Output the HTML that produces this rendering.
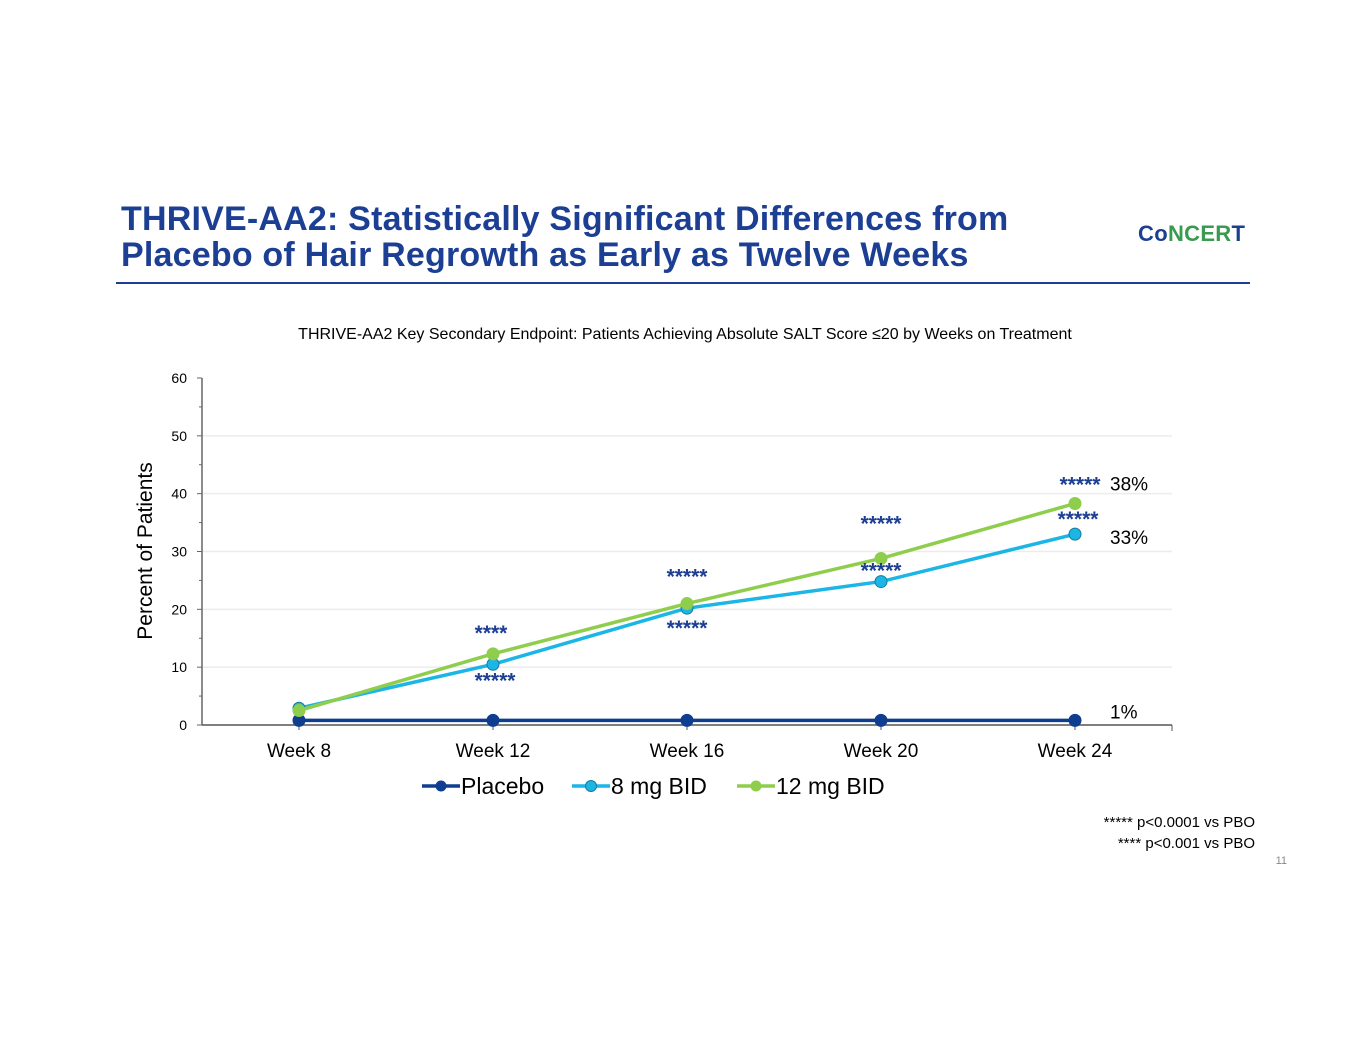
<!DOCTYPE html>
<html><head><meta charset="utf-8">
<style>
body{margin:0;background:#fff;font-family:"Liberation Sans",Arial,sans-serif;}
#wrap{position:relative;width:1365px;height:1055px;overflow:hidden;}
.title{position:absolute;left:121px;top:201px;font-size:34px;font-weight:bold;color:#1c3f94;line-height:36px;letter-spacing:0.2px;}
.logo{position:absolute;left:1138px;top:221px;font-size:22px;font-weight:bold;color:#1c3f94;letter-spacing:0.3px;}
.rule{position:absolute;left:116px;top:282px;width:1134px;height:2px;background:#1c3f94;}
</style></head><body>
<div id="wrap">
<div class="title">THRIVE-AA2: Statistically Significant Differences from<br>Placebo of Hair Regrowth as Early as Twelve Weeks</div>
<div class="logo">Co<span style="color:#3a9a50">NCER</span>T</div>
<div class="rule"></div>
<svg id="chart" width="1365" height="1055" style="position:absolute;left:0;top:0">
<text x="685" y="339" text-anchor="middle" font-size="16" fill="#000">THRIVE-AA2 Key Secondary Endpoint: Patients Achieving Absolute SALT Score ≤20 by Weeks on Treatment</text>
<text transform="translate(152,551) rotate(-90)" text-anchor="middle" font-size="21" fill="#000">Percent of Patients</text>
<g id="grid"></g><g id="axes"></g><g id="series"></g><g id="ann"></g>
<g>
<g><line x1="422" y1="786" x2="460" y2="786" stroke="#0f3d8f" stroke-width="3.5"/><circle cx="441" cy="786" r="5.5" fill="#0f3d8f"/><text x="461" y="794" font-size="23">Placebo</text></g>
<g><line x1="572" y1="786" x2="610" y2="786" stroke="#1bb5e6" stroke-width="3.5"/><circle cx="591" cy="786" r="5.5" fill="#1bb5e6" stroke="#1a7a9a" stroke-width="1"/><text x="611" y="794" font-size="23">8 mg BID</text></g>
<g><line x1="737" y1="786" x2="775" y2="786" stroke="#8fcd4c" stroke-width="3.5"/><circle cx="756" cy="786" r="5.5" fill="#8fcd4c"/><text x="776" y="794" font-size="23">12 mg BID</text></g>
</g>
<text x="1255" y="827" text-anchor="end" font-size="15">***** p&lt;0.0001 vs PBO</text>
<text x="1255" y="848" text-anchor="end" font-size="15">****  p&lt;0.001 vs PBO</text>
<text x="1287" y="864" text-anchor="end" font-size="11" fill="#888">11</text>
</svg>
</div>
<script>
const categories=["Week 8","Week 12","Week 16","Week 20","Week 24"];
const placebo=[0.8,0.8,0.8,0.8,0.8];
const mg8=[2.9,10.5,20.2,24.8,33];
const mg12=[2.5,12.3,21,28.8,38.3];
const yTicks=[0,10,20,30,40,50,60];
const starsTop=["","****","*****","*****","*****"];
const starsBottom=["","*****","*****","*****","*****"];
const endLabels=["1%","33%","38%"];
const NS="http://www.w3.org/2000/svg";
const x0=202,x1=1172,yB=725,yT=378,yMax=60;
const band=(x1-x0)/categories.length;
const topOff=[0,-14,-20,-28,-12], topDx=[0,-2,0,0,5];
const botOff=[0,23,27,-4,-8], botDx=[0,2,0,0,3];
function X(i){return x0+band*(i+0.5);}
function Y(v){return yB-(v/yMax)*(yB-yT);}
function mk(tag,attrs,parent,txt){const e=document.createElementNS(NS,tag);for(const k in attrs)e.setAttribute(k,attrs[k]);if(txt!==undefined)e.textContent=txt;document.getElementById(parent).appendChild(e);return e;}
yTicks.forEach(v=>{
 if(v>0&&v<60){const g=mk('line',{x1:x0,x2:x1,y1:Y(v),y2:Y(v),stroke:'#ececec','stroke-width':1.5},'grid');
 
 }
 const t=mk('text',{x:187,y:Y(v)+5,'text-anchor':'end','font-size':14},'axes',v);
 
 
 mk('line',{x1:x0-5,x2:x0,y1:Y(v),y2:Y(v),stroke:'#666'},'axes');
 if(v<60) mk('line',{x1:x0-3,x2:x0,y1:Y(v+5),y2:Y(v+5),stroke:'#666'},'axes');
});
const ya=mk('line',{x1:x0,x2:x0,y1:yT,y2:yB,stroke:'#666','stroke-width':1.5},'axes');


const xa=mk('line',{x1:x0,x2:x1,y1:yB,y2:yB,stroke:'#555','stroke-width':1.5},'axes');


mk('line',{x1:x1,x2:x1,y1:yB,y2:yB+6,stroke:'#555'},'axes');
categories.forEach((c,i)=>{
 mk('line',{x1:X(i),x2:X(i),y1:yB,y2:yB+5,stroke:'#555'},'axes');
 const t=mk('text',{x:X(i),y:757,'text-anchor':'middle','font-size':19},'axes',c);
 
 
});
function series(data,color,name,stroke){
 const pts=data.map((v,i)=>X(i)+','+Y(v)).join(' ');
 const l=mk('polyline',{points:pts,fill:'none',stroke:color,'stroke-width':3.5},'series');
 
 
 data.forEach((v,i)=>{const c=mk('circle',{cx:X(i),cy:Y(v),r:6,fill:color,stroke:stroke||color,'stroke-width':1},'series');
 
 });
}
series(placebo,'#0f3d8f','placebo');
series(mg8,'#1bb5e6','8mg','#1a7a9a');
series(mg12,'#8fcd4c','12mg');
categories.forEach((c,i)=>{
 if(starsTop[i]){const t=mk('text',{x:X(i)+topDx[i],y:Y(mg12[i])+topOff[i],'text-anchor':'middle','font-size':21,'font-weight':'bold',fill:'#1c3f94'},'ann',starsTop[i]);
 
 }
 if(starsBottom[i]){const t=mk('text',{x:X(i)+botDx[i],y:Y(mg8[i])+botOff[i],'text-anchor':'middle','font-size':21,'font-weight':'bold',fill:'#1c3f94'},'ann',starsBottom[i]);
 
 }
});
[[placebo,endLabels[0],-2],[mg8,endLabels[1],10],[mg12,endLabels[2],-13]].forEach(a=>{
 const t=mk('text',{x:1110,y:Y(a[0][4])+a[2],'font-size':19},'ann',a[1]);
 
 
});
</script>
</body></html>
